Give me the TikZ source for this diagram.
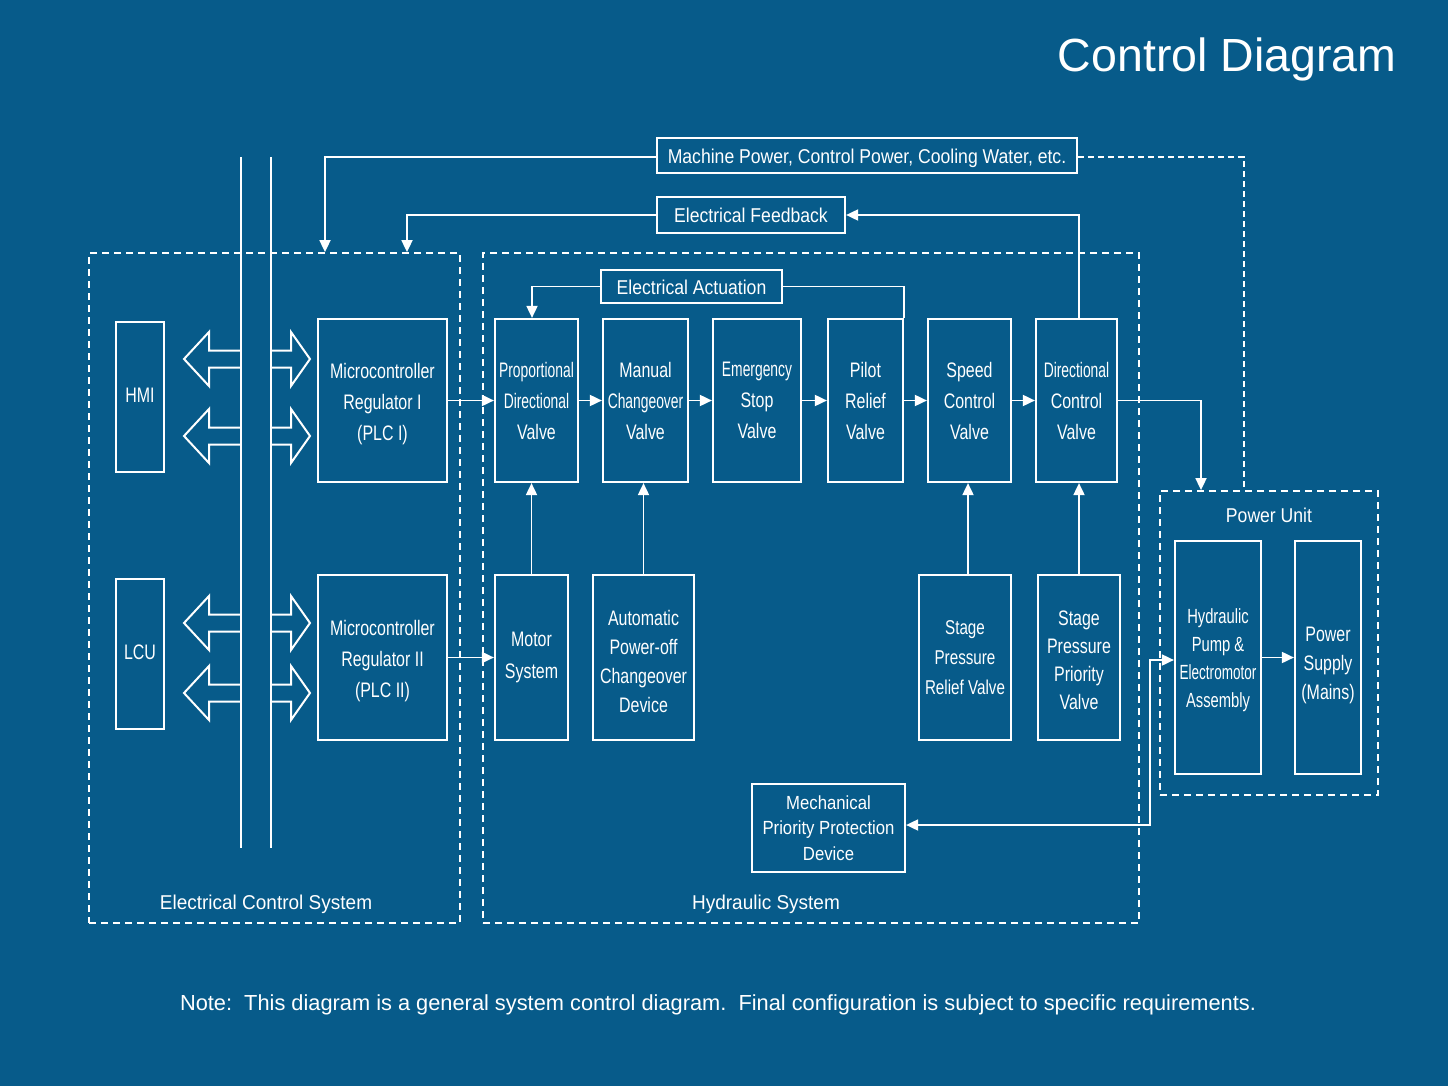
\documentclass[tikz,border=0pt]{standalone}
\usepackage{fontspec}
\setmainfont{Liberation Sans}
\newfontfamily\cn{Liberation Sans}[FakeStretch=0.76]
\newfontfamily\cnm{Liberation Sans}[FakeStretch=0.72]
\newfontfamily\cnn{Liberation Sans}[FakeStretch=0.66]
\newfontfamily\cnw{Liberation Sans}[FakeStretch=0.88]
\newfontfamily\lbl{Liberation Sans}[FakeStretch=0.95]
\usetikzlibrary{arrows.meta,calc}
\definecolor{bg}{RGB}{7,91,138}
\begin{document}
\begin{tikzpicture}[x=1pt,y=-1pt,
  box/.style={draw=white,line width=2.2pt,inner sep=0pt},
  tx/.style={text=white,align=center,inner sep=0pt},
  f21/.style={font=\cn\fontsize{21}{31}\selectfont},
  tagf/.style={font=\cnw\fontsize{20}{24}\selectfont},
  cont/.style={draw=white,line width=1.8pt,dash pattern=on 7pt off 5pt},
  conn/.style={draw=white,line width=1.8pt},
  arr/.style={conn,-{Triangle[length=12pt,width=11pt]}},
  barr/.style={conn,{Triangle[length=12pt,width=11pt]}-{Triangle[length=12pt,width=11pt]}},
  blk/.style={draw=white,line width=2pt,line join=miter},
  lab/.style={text=white,font=\lbl\fontsize{20}{24}\selectfont}
]
\useasboundingbox (0,0) rectangle (1448,1086);
\fill[bg] (0,0) rectangle (1448,1086);

% title
\node[anchor=base east,text=white,font=\fontsize{46.5}{56}\selectfont] (title) at (1400,72) {Control Diagram};

% containers
\node[cont,minimum width=371pt,minimum height=670pt,inner sep=0pt] (ecs) at (274.5,588) {};
\node[cont,minimum width=656pt,minimum height=670pt,inner sep=0pt] (hs) at (811,588) {};
\node[cont,minimum width=218pt,minimum height=304pt,inner sep=0pt] (pu) at (1269,643) {};
\node[lab] (ecslab) at (266,904) {Electrical Control System};
\node[lab] (hslab) at (766,904) {Hydraulic System};
\node[lab,font=\cnw\fontsize{20}{24}\selectfont] (pulab) at (1269,515) {Power Unit};

% bus lines
\draw[conn] (241,157) -- (241,848);
\draw[conn] (271,157) -- (271,848);

% block arrows
\foreach \c in {359,436,623,693}{
  \draw[blk] (241,\c-8.5) -- (209,\c-8.5) -- (209,\c-27) -- (184,\c) -- (209,\c+27) -- (209,\c+8.5) -- (241,\c+8.5);
  \draw[blk] (271,\c-8.5) -- (291,\c-8.5) -- (291,\c-27) -- (310,\c) -- (291,\c+27) -- (291,\c+8.5) -- (271,\c+8.5);
}

% left boxes
\node[box,minimum width=48pt,minimum height=150pt,label={[tx,f21,yshift=2pt]center:{HMI}}] (hmi) at (140,397) {};
\node[box,minimum width=48pt,minimum height=150pt,label={[tx,f21,yshift=2pt]center:{LCU}}] (lcu) at (140,654) {};
\node[box,minimum width=129pt,minimum height=163pt,label={[tx,f21,yshift=-4pt]center:{Microcontroller\\Regulator I\\(PLC I)}}] (micro1) at (382.5,400.5) {};
\node[box,minimum width=129pt,minimum height=165pt,label={[tx,f21,yshift=-4pt]center:{Microcontroller\\Regulator II\\(PLC II)}}] (micro2) at (382.5,657.5) {};

% valve row
\node[box,minimum width=83pt,minimum height=163pt,label={[tx,f21]center:{{\cnn Proportional}\\{\cnn Directional}\\Valve}}] (pdv) at (536.5,400.5) {};
\node[box,minimum width=85pt,minimum height=163pt,label={[tx,f21]center:{Manual\\{\cnn Changeover}\\Valve}}] (mcv) at (645.5,400.5) {};
\node[box,minimum width=88pt,minimum height=163pt,label={[tx,f21]center:{{\cnn Emergency}\\Stop\\Valve}}] (esv) at (757,400.5) {};
\node[box,minimum width=75pt,minimum height=163pt,label={[tx,f21]center:{Pilot\\Relief\\Valve}}] (prv) at (865.5,400.5) {};
\node[box,minimum width=83pt,minimum height=163pt,label={[tx,f21]center:{Speed\\Control\\Valve}}] (scv) at (969.5,400.5) {};
\node[box,minimum width=81pt,minimum height=163pt,label={[tx,f21]center:{{\cnn Directional}\\Control\\Valve}}] (dcv) at (1076.5,400.5) {};

% lower row
\node[box,minimum width=73pt,minimum height=165pt,label={[tx,font=\cn\fontsize{21}{32}\selectfont]center:{Motor\\System}}] (motor) at (531.5,657.5) {};
\node[box,minimum width=101pt,minimum height=165pt,label={[tx,font=\cn\fontsize{21}{29}\selectfont,yshift=-3.5pt]center:{Automatic\\Power-off\\Changeover\\Device}}] (auto) at (643.5,657.5) {};
\node[box,minimum width=92pt,minimum height=165pt,label={[tx,font=\cn\fontsize{20}{30}\selectfont]center:{Stage\\Pressure\\Relief Valve}}] (sprv) at (965,657.5) {};
\node[box,minimum width=82pt,minimum height=165pt,label={[tx,font=\cn\fontsize{21}{28}\selectfont,yshift=-3pt]center:{Stage\\Pressure\\Priority\\Valve}}] (sppv) at (1079,657.5) {};
\node[box,minimum width=153pt,minimum height=88pt,label={[tx,font=\cnw\fontsize{19}{25.5}\selectfont]center:{Mechanical\\Priority Protection\\Device}}] (mech) at (828.5,828) {};

% power unit
\node[box,minimum width=86pt,minimum height=233pt,label={[tx,font=\cnm\fontsize{20.5}{28}\selectfont,yshift=-3pt]center:{Hydraulic\\Pump \&\\{\cnn Electromotor}\\Assembly}}] (pump) at (1218,657.5) {};
\node[box,minimum width=66pt,minimum height=233pt,label={[tx,font=\cn\fontsize{21}{29}\selectfont,yshift=-8pt]center:{Power\\Supply\\(Mains)}}] (supply) at (1328,657.5) {};

% tags
\node[box,minimum width=420pt,minimum height=35pt,label={[tx,tagf,yshift=-3pt]center:{Machine Power, Control Power, Cooling Water, etc.}}] (mp) at (867,155.5) {};
\node[box,minimum width=188pt,minimum height=36pt,label={[tx,tagf]center:{Electrical Feedback}}] (ef) at (751,215) {};
\node[box,minimum width=181pt,minimum height=33pt,label={[tx,tagf,yshift=-1pt]center:{Electrical Actuation}}] (ea) at (691.5,286.5) {};

% guide coordinates
\coordinate (x325) at (325,0);
\coordinate (x407) at (407,0);
\coordinate (x532) at (532,0);
\coordinate (x968) at (968,0);
\coordinate (x1079) at (1079,0);
\coordinate (x1201) at (1201,0);
\coordinate (x1244) at (1244,0);
\coordinate (x1150) at (1150,0);
\coordinate (y660) at (0,660);
\coordinate (y825) at (0,825);
\coordinate (y157) at (0,157);

% connectors
\draw[arr] (y157 -| mp.west) -| (x325 |- ecs.north);
\draw[conn,dash pattern=on 6pt off 4pt] (y157 -| mp.east) -| (x1244 |- pu.north);
\draw[arr] (x1079 |- dcv.north) |- (ef.east);
\draw[arr] (ef.west) -| (x407 |- ecs.north);
\draw[conn] (prv.north east) |- (ea.east);
\draw[arr] (ea.west) -| (x532 |- pdv.north);

\draw[arr] (micro1.east) -- (pdv.west);
\draw[arr] (micro2.east) -- (motor.west);

\draw[arr] (pdv) -- (mcv);
\draw[arr] (mcv) -- (esv);
\draw[arr] (esv) -- (prv);
\draw[arr] (prv) -- (scv);
\draw[arr] (scv) -- (dcv);
\draw[arr] (dcv.east) -| (x1201 |- pu.north);

\draw[arr] (motor.north) -- (motor.north |- pdv.south);
\draw[arr] (auto.north) -- (auto.north |- mcv.south);
\draw[arr] (x968 |- sprv.north) -- (x968 |- scv.south);
\draw[arr] (sppv.north) -- (sppv.north |- dcv.south);

\draw[arr] (pump) -- (supply);
\draw[barr] (y825 -| mech.east) -| (x1150 |- y660) -- (y660 -| pump.west);

% note
\node[text=white,font=\fontsize{21.8}{26}\selectfont] (note) at (718,1005) {Note:\ \ This diagram is a general system control diagram.\ \ Final configuration is subject to specific requirements.};
\end{tikzpicture}
\end{document}
